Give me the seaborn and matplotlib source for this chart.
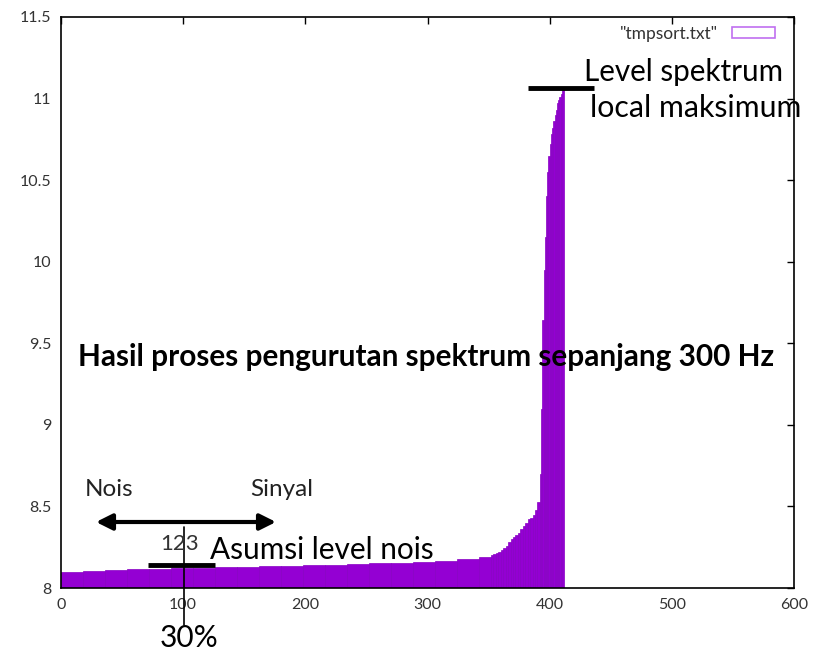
import numpy as np
import pandas as pd
import seaborn as sns
import matplotlib.pyplot as plt
from matplotlib.patches import Patch

# sorted spectrum level, boxes given by their left/right edge (index units)
edges = [0, 18, 36, 54, 72, 90, 108, 126, 144, 162, 180, 198, 216, 234, 252,
         270, 288, 306, 324, 342, 352, 354, 356, 358, 360, 362, 364, 366, 368,
         370, 372, 374, 376, 378, 380, 382, 384, 386, 388, 390, 392, 393, 394,
         395, 396, 397, 398, 399, 400, 401, 402, 403, 404, 405, 406, 407, 408,
         409, 410, 411.5]
levels = [8.100, 8.105, 8.110, 8.115, 8.118, 8.121, 8.124, 8.127, 8.130, 8.133,
          8.136, 8.140, 8.143, 8.147, 8.151, 8.156, 8.162, 8.168, 8.176, 8.190,
          8.20, 8.21, 8.215, 8.22, 8.23, 8.245, 8.26, 8.28, 8.30, 8.31,
          8.325, 8.34, 8.36, 8.38, 8.40, 8.42, 8.43, 8.45, 8.48, 8.53,
          8.70, 9.10, 9.64, 9.95, 10.15, 10.40, 10.55, 10.65, 10.72, 10.78,
          10.82, 10.86, 10.90, 10.93, 10.97, 10.99, 11.01, 11.03, 11.05]

x_ticks = [0, 100, 200, 300, 400, 500, 600]
y_ticks = [8, 8.5, 9, 9.5, 10, 10.5, 11, 11.5]
y_labels = ["8", "8.5", "9", "9.5", "10", "10.5", "11", "11.5"]

df = pd.DataFrame({
    "idx": [(a + b) / 2 for a, b in zip(edges[:-1], edges[1:])],
    "level": levels,
})

sns.set_theme(style="white")
plt.rcParams["font.family"] = ["Lato", "DejaVu Sans"]

W, H = 813, 654
fig = plt.figure(figsize=(W / 100, H / 100), dpi=100)
ax = fig.add_axes([61 / W, 1 - 588 / H, (794 - 61) / W, (588 - 17) / H])

PURPLE = "#9400D3"
sns.histplot(data=df, x="idx", weights="level", bins=edges, ax=ax,
             color=PURPLE, alpha=1, edgecolor="#8800c4", linewidth=0.5)

ax.set_xlim(0, 600)
ax.set_ylim(8, 11.5)
ax.set_xticks(x_ticks)
ax.set_yticks(y_ticks)
ax.set_yticklabels(y_labels)
ax.set_xlabel("")
ax.set_ylabel("")
ax.tick_params(direction="in", length=5, width=1, color="black",
               top=True, right=True, labelsize=11.5, labelcolor="#333333", pad=7)
for s in ax.spines.values():
    s.set_color("black")
    s.set_linewidth(1.2)

leg_handle = Patch(facecolor="white", edgecolor="#c070f0", linewidth=1.2)
ax.legend([leg_handle], ['"tmpsort.txt"'], loc="upper right", frameon=False,
          bbox_to_anchor=(0.986, 1.0),
          markerfirst=False, handlelength=2.5, handleheight=0.6, fontsize=12.5,
          handletextpad=0.8, borderaxespad=0.1, labelcolor="#333333")


def u(px):
    return (px - 61) / ((794 - 61) / 600)


def v(py):
    return 8 + (588 - py) / ((588 - 17) / 3.5)


# annotation lines
ax.plot([u(528), u(594)], [v(88), v(88)], color="black", lw=3.5,
        clip_on=False, solid_capstyle="butt")
ax.plot([u(148), u(215)], [v(565), v(565)], color="black", lw=3.5,
        clip_on=False, solid_capstyle="butt")
ax.plot([u(184), u(184)], [v(527), v(625)], color="black", lw=1.2,
        clip_on=False)
ax.annotate("", xy=(u(96), v(522)), xytext=(u(276), v(522)),
            arrowprops=dict(arrowstyle="<|-|>", color="black", lw=3,
                            mutation_scale=24, shrinkA=0, shrinkB=0))


def label(px, py, s, size, **kw):
    fig.text(px / W, 1 - py / H, s, fontsize=size, ha="left", va="center", **kw)


label(584, 72, "Level spektrum", 21.3, color="black")
label(590, 108, "local maksimum", 21.8, color="black")
label(78, 357, "Hasil proses pengurutan spektrum sepanjang 300 Hz", 21.4,
      color="black", fontweight="bold")
label(85, 489, "Nois", 17.5, color="#222222")
label(250, 489, "Sinyal", 17.5, color="#222222")
label(160, 544, "123", 16, color="#333333")
label(210, 550, "Asumsi level nois", 21.4, color="black")
label(160, 638, "30%", 21.5, color="black")

fig.savefig("out.png", dpi=100)
